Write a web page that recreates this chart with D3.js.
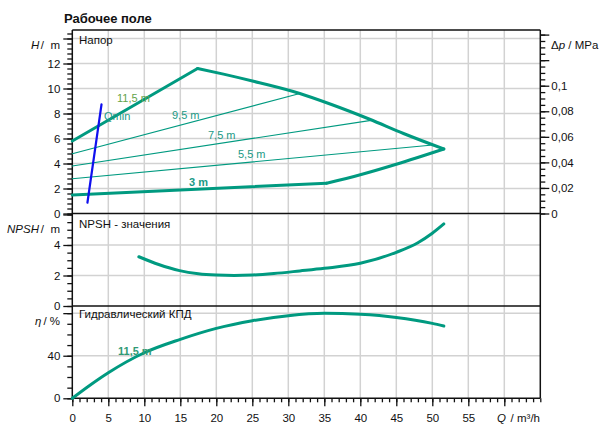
<!DOCTYPE html>
<html><head><meta charset="utf-8">
<script src="https://cdn.jsdelivr.net/npm/d3@7"></script>
<style>
body{margin:0;background:#fff}
text{font-family:"Liberation Sans",Arial,sans-serif;fill:#111;white-space:pre}
</style></head>
<body><svg id="c" width="604" height="442"></svg>
<script>
// ---------- data ----------
const qTicks = [0,5,10,15,20,25,30,35,40,45,50,55];
const hTicks = [0,2,4,6,8,10,12];
const dpTicks = [0,0.02,0.04,0.06,0.08,0.1];
const npshTicks = [0,2,4];
const etaTicks = [0,40];

// max curve: rising straight part, then falling curved part
const maxUpQ = [0, 17.4];
const maxUpH = [5.8, 11.6];
const maxDownQ = [17.4, 21, 26, 31.6, 36, 41.3, 46, 51.6];
const maxDownH = [11.6, 11.15, 10.46, 9.6, 8.72, 7.54, 6.4, 5.16];
// min curve: flat straight part, then rising curved part
const minFlatQ = [0, 35.3];
const minFlatH = [1.48, 2.42];
const minRiseQ = [35.3, 40, 45, 51.6];
const minRiseH = [2.42, 3.1, 3.94, 5.16];
const line95Q = [0, 31.6], line95H = [4.78, 9.6];
const line75Q = [0, 41.5], line75H = [3.8, 7.45];
const line55Q = [0, 49.7], line55H = [2.78, 5.46];
const qminQ = [2.1, 4.06], qminH = [0.86, 8.74];

const npshQ = [9.24, 12, 14.9, 17.5, 20, 22.5, 25, 28, 31.6, 35, 40, 45, 48, 50, 51.6];
const npshV = [3.23, 2.72, 2.32, 2.12, 2.03, 2.0, 2.03, 2.13, 2.3, 2.47, 2.8, 3.52, 4.15, 4.77, 5.38];

const etaQ = [0, 2.5, 5, 10, 15, 20, 25, 30, 35, 40, 45, 50, 51.6];
const etaV = [0, 12.5, 24, 42.8, 55.4, 65.7, 72.9, 77.6, 79.8, 78.9, 76, 70.4, 67.9];

// ---------- setup ----------
const svg = d3.select('#c');
const TEAL = '#009a80';
const GRID = '#d2d2d2';
const x = d3.scaleLinear([0,65],[72.3,540.3]);
const yH = d3.scaleLinear([0,14.68],[213.5,30]);
const yDp = d3.scaleLinear([0,0.1436],[213.5,30]);
const yN = d3.scaleLinear([0,6],[306,214.5]);
const yE = d3.scaleLinear([0,87],[398.3,305.7]);
const fmt = d => (+(+d).toFixed(3)).toString().replace('.', ',');

// ---------- grids ----------
const g = svg.append('g');
const vgrid = d3.range(5,61,5);
function grid(yScale, vals){
  const [b,t] = yScale.range();
  g.selectAll(null).data(vgrid).join('line')
    .attr('x1',d=>x(d)).attr('x2',d=>x(d)).attr('y1',b).attr('y2',t)
    .attr('stroke',GRID).attr('stroke-width',1.5);
  g.selectAll(null).data(vals).join('line')
    .attr('x1',x(0)).attr('x2',x(65)).attr('y1',d=>yScale(d)).attr('y2',d=>yScale(d))
    .attr('stroke',GRID).attr('stroke-width',1.5);
}
grid(yH, [2,4,6,8,10,12,14]);
grid(yN, [2,4]);
grid(yE, [40,80]);

// ---------- axes ----------
function styleAxis(sel){
  sel.selectAll('.domain').remove();
  sel.selectAll('line').attr('stroke','#111').attr('stroke-width',1.3);
  sel.selectAll('text').style('font-size','11.5px').attr('fill','#111');
}
const xa = svg.append('g').attr('transform',`translate(0,${yE(0)})`);
xa.call(d3.axisBottom(x).tickValues(d3.range(0,66,1)).tickSize(4).tickFormat('')).call(styleAxis);
const xb = svg.append('g').attr('transform',`translate(0,${yE(0)})`);
xb.call(d3.axisBottom(x).tickValues(qTicks.concat([60])).tickSize(8).tickPadding(8)
  .tickFormat(d=> d===60 ? '' : d)).call(styleAxis);

function leftAxis(scale, minors, majors, labels){
  const a = svg.append('g').attr('transform',`translate(${x(0)},0)`);
  a.call(d3.axisLeft(scale).tickValues(minors).tickSize(5).tickFormat('')).call(styleAxis);
  const b = svg.append('g').attr('transform',`translate(${x(0)},0)`);
  b.call(d3.axisLeft(scale).tickValues(majors).tickSize(9).tickPadding(3)
    .tickFormat(d=> labels.includes(d) ? fmt(d) : '')).call(styleAxis);
}
leftAxis(yH, d3.range(0,14.5,0.4), [0,2,4,6,8,10,12,14], hTicks);
leftAxis(yN, d3.range(0,6.01,0.5), [0,2,4,6], npshTicks);
leftAxis(yE, d3.range(0,81,10), [0,40,80], etaTicks);

const ra = svg.append('g').attr('transform',`translate(${x(65)},0)`);
ra.call(d3.axisRight(yDp).tickValues(d3.range(0,0.1426,0.005)).tickSize(5).tickFormat('')).call(styleAxis);
const rb = svg.append('g').attr('transform',`translate(${x(65)},0)`);
rb.call(d3.axisRight(yDp).tickValues([0,0.02,0.04,0.06,0.08,0.1,0.12,0.14]).tickSize(9).tickPadding(2)
  .tickFormat(d=> dpTicks.some(v=>Math.abs(v-d)<1e-9) ? fmt(d) : '')).call(styleAxis);

const frame = svg.append('g').attr('stroke','#111').attr('stroke-width',1.5);
frame.append('line').attr('x1',x(0)).attr('x2',x(0)).attr('y1',yH.range()[1]).attr('y2',yE(0));
frame.append('line').attr('x1',x(65)).attr('x2',x(65)).attr('y1',yH.range()[1]).attr('y2',yE(0));
[yH.range()[1], yH(0), yN(0), yE(0)].forEach(yy=>{
  frame.append('line').attr('x1',x(0)).attr('x2',x(65)).attr('y1',yy).attr('y2',yy);
});

// ---------- curves ----------
const curves = svg.append('g').attr('fill','none');
function draw(qs, vs, yScale, w, color, curve){
  const ln = d3.line().x(d=>x(d[0])).y(d=>yScale(d[1])).curve(curve||d3.curveLinear);
  curves.append('path').attr('d', ln(qs.map((q,i)=>[q,vs[i]])))
    .attr('stroke',color).attr('stroke-width',w).attr('stroke-linejoin','round').attr('stroke-linecap','round');
}
draw(line95Q, line95H, yH, 1.2, TEAL);
draw(line75Q, line75H, yH, 1.2, TEAL);
draw(line55Q, line55H, yH, 1.2, TEAL);
draw(maxUpQ, maxUpH, yH, 3, TEAL);
draw(maxDownQ, maxDownH, yH, 3, TEAL, d3.curveMonotoneX);
draw(minFlatQ, minFlatH, yH, 3, TEAL);
draw(minRiseQ, minRiseH, yH, 3, TEAL, d3.curveMonotoneX);
draw(qminQ, qminH, yH, 2.2, '#1010ee');
draw(npshQ, npshV, yN, 3, TEAL, d3.curveMonotoneX);
draw(etaQ, etaV, yE, 3, TEAL, d3.curveMonotoneX);

// ---------- texts ----------
const T = svg.append('g');
function txt(xx, yy, s, o={}){
  const t = T.append('text').attr('x',xx).attr('y',yy).style('font-size',(o.size||11.5)+'px');
  if(o.anchor) t.attr('text-anchor',o.anchor);
  if(o.weight) t.style('font-weight',o.weight);
  if(o.fill) t.style('fill',o.fill);
  if(o.style) t.style('font-style',o.style);
  t.text(s); return t;
}
txt(64, 23, 'Рабочее поле', {size:13, weight:'bold'});
txt(79, 43.5, 'Напор');
txt(79, 227.5, 'NPSH - значения');
txt(79, 318, 'Гидравлический КПД');

function unitLabel(symX, xEnd, yy, ital, rest){
  txt(symX, yy, ital, {style:'italic'});
  txt(xEnd, yy, rest, {anchor:'end'});
}
unitLabel(31, 60, 49, 'H', '/  m');
unitLabel(7, 60, 233, 'NPSH', '/  m');
unitLabel(35, 60, 324.5, 'η', '/ %');
{
  const t = T.append('text').attr('x',551).attr('y',49).style('font-size','11.5px');
  t.append('tspan').text('Δ');
  t.append('tspan').style('font-style','italic').text('p');
  t.append('tspan').text(' / MPa');
}
txt(497, 422, 'Q', {style:'italic'});
txt(540, 422, '/ m³/h', {anchor:'end'});

txt(117, 101.5, '11,5 m', {size:11, fill:'#63a34a'});
txt(104, 119.5, 'Qmin', {size:11, fill:'#1a9a86'});
txt(172, 119, '9,5 m', {size:11, fill:'#1a9a86'});
txt(208, 139, '7,5 m', {size:11, fill:'#1a9a86'});
txt(238, 158, '5,5 m', {size:11, fill:'#1a9a86'});
txt(189, 186, '3 m', {size:11, weight:'bold', fill:'#1a9a86'});
txt(118, 355, '11,5 m', {size:11, weight:'bold', fill:'#2f9a74'});
</script></body></html>
